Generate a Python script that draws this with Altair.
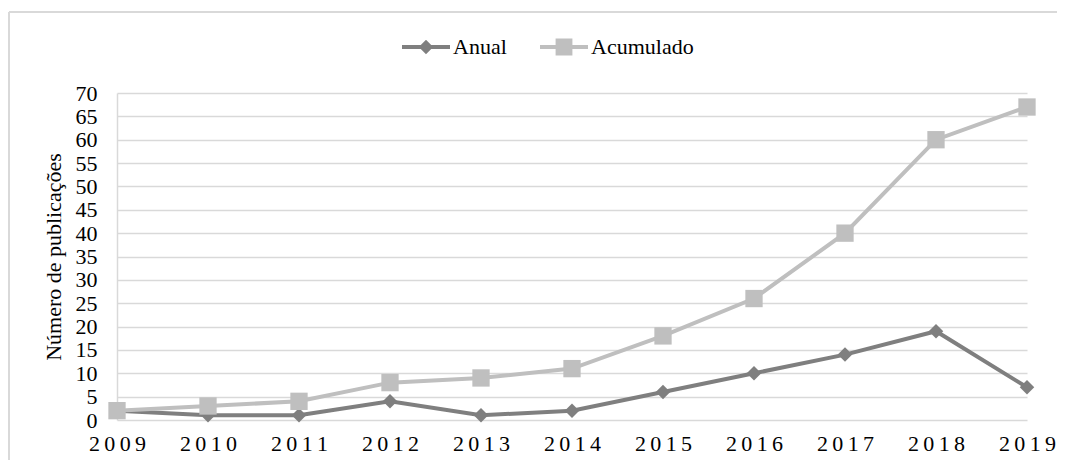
import altair as alt
import pandas as pd

years = ["2009", "2010", "2011", "2012", "2013", "2014", "2015", "2016", "2017", "2018", "2019"]
anual = [2, 1, 1, 4, 1, 2, 6, 10, 14, 19, 7]
acumulado = [2, 3, 4, 8, 9, 11, 18, 26, 40, 60, 67]
series_names = ["Anual", "Acumulado"]
series_colors = ["#7f7f7f", "#bfbfbf"]

rows = []
for i, y in enumerate(years):
    rows.append({"Ano": y, "Série": "Anual", "Valor": anual[i]})
    rows.append({"Ano": y, "Série": "Acumulado", "Valor": acumulado[i]})
df = pd.DataFrame(rows)

FONT = "Liberation Serif, Times New Roman, DejaVu Serif, serif"
FS = 22

x = alt.X("Ano:O", scale=alt.Scale(type="point", padding=0),
          axis=alt.Axis(title=None, labelAngle=0, domain=False, ticks=False,
                        labelFont=FONT, labelFontSize=FS, labelColor="#000000",
                        labelPadding=13, grid=False,
                        labelExpr="join(split(datum.label, ''), '\u2009')"))
y = alt.Y("Valor:Q", scale=alt.Scale(domain=[0, 70], nice=False),
          axis=alt.Axis(title="Número de publicações", values=list(range(0, 71, 5)),
                        domain=True, domainColor="#d9d9d9", domainWidth=1.5,
                        ticks=False, grid=True, gridColor="#d9d9d9", gridWidth=1.5,
                        labelFont=FONT, labelFontSize=FS, labelColor="#000000",
                        labelPadding=20, titleFont=FONT, titleFontSize=FS,
                        titleFontWeight="normal", titleColor="#000000",
                        titlePadding=10))

# legend symbols: a line segment with the marker on it
leg_anual = "M-2,-0.16H2V0.16H-2Z M0,-0.6L0.6,0L0,0.6L-0.6,0Z"
leg_acum = "M-2,-0.16H2V0.16H-2Z M-0.7,-0.7H0.7V0.7H-0.7Z"

base = alt.Chart(df)

def series_layers(name, col, shape, size):
    d = base.transform_filter(f"datum['Série'] == '{name}'")
    ln = d.mark_line(strokeWidth=4, color=col).encode(x=x, y=y)
    pt = d.mark_point(filled=True, size=size, opacity=1, color=col, shape=shape).encode(x=x, y=y)
    return [ln, pt]

legend_layer = base.transform_filter("false").mark_point(filled=True, opacity=1).encode(
    x=x, y=y,
    color=alt.Color("Série:N", scale=alt.Scale(domain=series_names, range=series_colors),
                    legend=alt.Legend(title=None, orient="none", direction="horizontal",
                                      legendX=297, legendY=-58, padding=0,
                                      labelFont=FONT, labelFontSize=FS, labelColor="#000000",
                                      symbolSize=576, symbolStrokeWidth=0,
                                      labelOffset=15, columnPadding=33)),
    shape=alt.Shape("Série:N", scale=alt.Scale(domain=series_names, range=[leg_anual, leg_acum])),
)

frame_left = alt.Chart(pd.DataFrame({"k": [0]})).mark_rule(color="#d9d9d9", strokeWidth=2).encode(
    x=alt.value(-108), y=alt.value(-81), y2=alt.value(380))
frame_top = alt.Chart(pd.DataFrame({"k": [0]})).mark_rule(color="#d9d9d9", strokeWidth=2).encode(
    x=alt.value(-108), x2=alt.value(960), y=alt.value(-81))

layers = [frame_left, frame_top]
layers += series_layers("Anual", series_colors[0], "diamond", 210)
layers += series_layers("Acumulado", series_colors[1], "square", 300)
layers.append(legend_layer)

chart = alt.layer(*layers).properties(
    width=910, height=327,
    autosize=alt.AutoSizeParams(type="none"),
    padding={"left": 109, "top": 85, "right": 30, "bottom": 40},
    background="#ffffff",
).configure_view(stroke=None)

chart.save("out.html", embed_options={"renderer": "svg", "actions": False})
